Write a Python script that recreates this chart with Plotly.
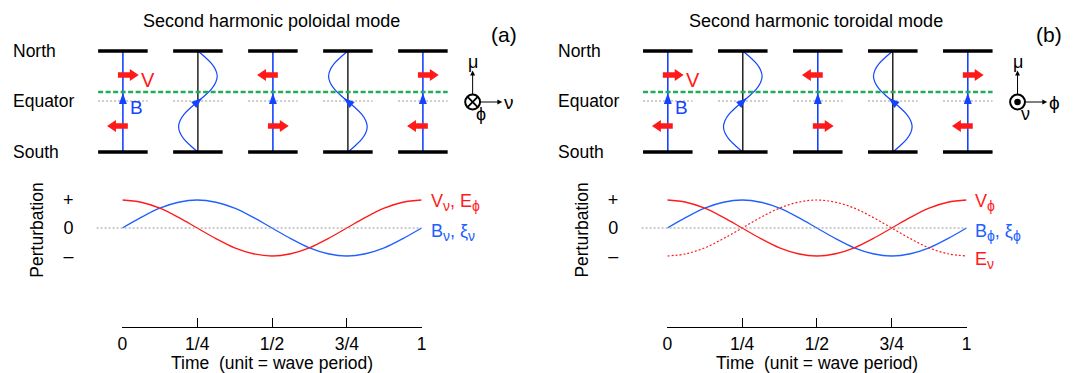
import plotly.graph_objects as go

# ---- data -------------------------------------------------------------
# time in units of the wave period and normalised perturbations
time = [0, 0.0625, 0.125, 0.1875, 0.25, 0.3125, 0.375, 0.4375, 0.5,
        0.5625, 0.625, 0.6875, 0.75, 0.8125, 0.875, 0.9375, 1]
v_pert = [1, 0.92, 0.71, 0.38, 0, -0.38, -0.71, -0.92, -1,
          -0.92, -0.71, -0.38, 0, 0.38, 0.71, 0.92, 1]        # V (red, solid)
b_pert = [0, 0.38, 0.71, 0.92, 1, 0.92, 0.71, 0.38, 0,
          -0.38, -0.71, -0.92, -1, -0.92, -0.71, -0.38, 0]    # B, xi (blue)
e_nu_pert = [-1, -0.92, -0.71, -0.38, 0, 0.38, 0.71, 0.92, 1,
             0.92, 0.71, 0.38, 0, -0.38, -0.71, -0.92, -1]    # E_nu (red, dotted)

time_ticks = [0, 0.25, 0.5, 0.75, 1]
time_labels = ["0", "1/4", "1/2", "3/4", "1"]
pert_ticks = [1, 0, -1]
pert_labels = ["+", "0", "–"]

# snapshots at each quarter period: sign of velocity, field-line displacement
snap_v = [1, 0, -1, 0, 1]
snap_b = [0, 1, 0, -1, 0]

# field-line displacement profile from north (0) to south (1)
line_frac = [0, 0.0625, 0.125, 0.1875, 0.25, 0.3125, 0.375, 0.4375, 0.5,
             0.5625, 0.625, 0.6875, 0.75, 0.8125, 0.875, 0.9375, 1]
line_disp = [0, 0.38, 0.71, 0.92, 1, 0.92, 0.71, 0.38, 0,
             -0.38, -0.71, -0.92, -1, -0.92, -0.71, -0.38, 0]

# ---- layout constants (pixels) ---------------------------------------
W, H = 1080, 373
FONT = "Liberation Sans, Arial, Helvetica, sans-serif"
RED = "#ff1a1a"
BLUE = "#2060ff"
LINE_BLUE = "#1444ff"
GREEN = "#1fae55"
GRAY = "#9a9a9a"

PANEL_DX = 550
COL_X0, COL_DX = 119, 75.7
BAR_HALF = 25
TOP_Y, BOT_Y = 51, 152
EQ_Y = 101
GREEN_Y = 92
WAVE_AMP = 19.5

T0_X, T1_X = 118.5, 420.5
ZERO_Y, UNIT_PX = 228, 28
AXIS_Y, PLOT_TOP_Y = 327, 186

SUB = "<sub><span style='font-size:14px'>{}</span></sub>"

panels = [
    dict(title="Second harmonic poloidal mode", tag="(a)",
         labels=[("V" + SUB.format("ν") + ", E" + SUB.format("ϕ"), RED, 202),
                 ("B" + SUB.format("ν") + ", ξ" + SUB.format("ν"), BLUE, 232)],
         dotted=False, glyph="cross", right_lbl="ν", out_lbl="ϕ"),
    dict(title="Second harmonic toroidal mode", tag="(b)",
         labels=[("V" + SUB.format("ϕ"), RED, 202),
                 ("B" + SUB.format("ϕ") + ", ξ" + SUB.format("ϕ"), BLUE, 232),
                 ("E" + SUB.format("ν"), RED, 260)],
         dotted=True, glyph="dot", right_lbl="ϕ", out_lbl="ν"),
]

fig = go.Figure()
shapes = []
annotations = []


def px_line(x0, y0, x1, y1, color, width, dash=None, layer="above"):
    ln = dict(color=color, width=width)
    if dash:
        ln["dash"] = dash
    shapes.append(dict(type="line", xref="x3", yref="y3", x0=x0, y0=y0,
                       x1=x1, y1=y1, line=ln, layer=layer))


def polygon(pts, color):
    d = "M" + " L".join(f"{x:.2f},{y:.2f}" for x, y in pts) + " Z"
    shapes.append(dict(type="path", xref="x3", yref="y3", path=d,
                       fillcolor=color, line=dict(width=0), layer="above"))


def block_arrow(x_tail, x_tip, y, color=RED, shaft=2.7, head_half=6, head_len=9):
    d = 1 if x_tip > x_tail else -1
    xb = x_tip - d * head_len
    polygon([(x_tail, y - shaft), (xb, y - shaft), (xb, y - head_half),
             (x_tip, y), (xb, y + head_half), (xb, y + shaft),
             (x_tail, y + shaft)], color)


def head(cx, cy, ux, uy, length, half, color):
    n = (ux * ux + uy * uy) ** 0.5
    ux, uy = ux / n, uy / n
    tip = (cx + ux * length / 2, cy + uy * length / 2)
    bx, by = cx - ux * length / 2, cy - uy * length / 2
    polygon([tip, (bx - uy * half, by + ux * half),
             (bx + uy * half, by - ux * half)], color)


def text(x, y, s, size=17, color="black", xanchor="center", angle=0, xref="x3"):
    annotations.append(dict(x=x, y=y, xref=xref, yref="y3", text=s,
                            showarrow=False, xanchor=xanchor, yanchor="middle",
                            textangle=angle,
                            font=dict(family=FONT, size=size, color=color)))


for p, pan in enumerate(panels):
    ox = p * PANEL_DX
    ax_id = "" if p == 0 else "2"

    # --- titles and row labels
    text(269 + ox, 21, pan["title"], size=18)
    text(504 + ox, 34, pan["tag"], size=21)
    text(6 + ox, TOP_Y, "North", xanchor="left", size=17.5)
    text(6 + ox, EQ_Y, "Equator", xanchor="left", size=17.5)
    text(6 + ox, BOT_Y, "South", xanchor="left", size=17.5)

    cols = [COL_X0 + ox + i * COL_DX for i in range(len(snap_v))]

    # --- equator reference lines
    for cx in cols:
        px_line(cx - BAR_HALF, EQ_Y, cx + BAR_HALF, EQ_Y, GRAY, 1, "2px,2px")

    # --- field lines, ionosphere bars
    mid_y = (TOP_Y + BOT_Y) / 2
    i_mid = len(line_frac) // 2
    slope = ((line_disp[i_mid + 1] - line_disp[i_mid - 1])
             / (line_frac[i_mid + 1] - line_frac[i_mid - 1]))
    for cx, vb in zip(cols, snap_b):
        if vb == 0:
            px_line(cx, TOP_Y, cx, BOT_Y, LINE_BLUE, 1.6)
            head(cx, EQ_Y - 2.5, 0, -1, 11, 4, LINE_BLUE)
        else:
            px_line(cx, TOP_Y, cx, BOT_Y, "black", 1.3, layer="below")
            fig.add_trace(go.Scatter(
                x=[cx + WAVE_AMP * vb * d for d in line_disp],
                y=[TOP_Y + f * (BOT_Y - TOP_Y) for f in line_frac],
                xaxis="x3", yaxis="y3", mode="lines", hoverinfo="skip",
                line=dict(color=LINE_BLUE, width=1.2, shape="spline"),
                showlegend=False))
            dxdf = WAVE_AMP * vb * slope
            head(cx, mid_y, -dxdf, -(BOT_Y - TOP_Y), 11, 4, LINE_BLUE)
        px_line(cx - BAR_HALF, TOP_Y, cx + BAR_HALF, TOP_Y, "black", 3.5)
        px_line(cx - BAR_HALF, BOT_Y, cx + BAR_HALF, BOT_Y, "black", 3.5)

    px_line(cols[0] - BAR_HALF, GREEN_Y, cols[-1] + BAR_HALF, GREEN_Y,
            GREEN, 2.5, "5px,2.5px")

    # --- plasma velocity arrows
    for cx, vv in zip(cols, snap_v):
        if vv == 0:
            continue
        block_arrow(cx - 5 * vv, cx + 16 * vv, 75)
        block_arrow(cx + 5 * vv, cx - 16 * vv, 126)

    text(cols[0] + 25, 80, "V", size=20, color=RED)
    text(cols[0] + 14, 107, "B", size=19, color=LINE_BLUE)

    # --- coordinate glyph
    gx, gy, r = 472 + ox, 102, 7.5
    shapes.append(dict(type="circle", xref="x3", yref="y3",
                       x0=gx - r, x1=gx + r, y0=gy - r, y1=gy + r,
                       line=dict(color="black", width=2)))
    if pan["glyph"] == "cross":
        k = r * 0.68
        px_line(gx - k, gy - k, gx + k, gy + k, "black", 1.8)
        px_line(gx - k, gy + k, gx + k, gy - k, "black", 1.8)
    else:
        shapes.append(dict(type="circle", xref="x3", yref="y3",
                           x0=gx - 3.3, x1=gx + 3.3, y0=gy - 3.3, y1=gy + 3.3,
                           fillcolor="black", line=dict(color="black", width=0)))
    px_line(gx, gy - r, gx, 75, "black", 1)
    head(gx, 73, 0, -1, 5, 2.5, "black")
    px_line(gx + r, gy, gx + 27, gy, "black", 1)
    head(gx + 27.5, gy, 1, 0, 5, 2.5, "black")
    text(gx, 62, "μ", size=18)
    text(gx + 37, gy, pan["right_lbl"], size=19)
    text(gx + 8, gy + 12, pan["out_lbl"], size=18)

    # --- time series panel
    px_line(T0_X + ox - 26, ZERO_Y, T1_X + ox, ZERO_Y, GRAY, 1.2, "2px,2px")
    fig.add_trace(go.Scatter(x=time, y=b_pert, xaxis="x" + ax_id, yaxis="y" + ax_id,
                             mode="lines", line=dict(color=BLUE, width=1.3, shape="spline"),
                             hoverinfo="skip", showlegend=False))
    fig.add_trace(go.Scatter(x=time, y=v_pert, xaxis="x" + ax_id, yaxis="y" + ax_id,
                             mode="lines", line=dict(color=RED, width=1.3, shape="spline"),
                             hoverinfo="skip", showlegend=False))
    if pan["dotted"]:
        fig.add_trace(go.Scatter(x=time, y=e_nu_pert, xaxis="x" + ax_id, yaxis="y" + ax_id,
                                 mode="lines",
                                 line=dict(color=RED, width=1.2, dash="2px,2px", shape="spline"),
                                 hoverinfo="skip", showlegend=False))

    for s, c, y in pan["labels"]:
        text(T1_X + ox + 7, y, s, size=18, color=c, xanchor="left")

    text(32 + ox, 230, "Perturbation", size=17.5, angle=-90)
    text(0.5, 363, "Time\u00a0\u00a0(unit = wave period)", size=17.5,
         xref="x" + ax_id)

# ---- axes ---------------------------------------------------------------
y_dom = [(H - AXIS_Y) / H, (H - PLOT_TOP_Y) / H]
y_rng = [(ZERO_Y - AXIS_Y) / UNIT_PX, (ZERO_Y - PLOT_TOP_Y) / UNIT_PX]

xaxis_common = dict(range=[0, 1], showgrid=False, zeroline=False, showline=True,
                    linecolor="black", linewidth=1, ticks="inside", ticklen=9,
                    tickwidth=1, tickcolor="black", tickvals=time_ticks,
                    ticktext=time_labels, ticklabelstandoff=1,
                    tickfont=dict(family=FONT, size=17.5, color="black"),
                    fixedrange=True)
yaxis_common = dict(range=y_rng, domain=y_dom, showgrid=False, zeroline=False,
                    showline=False, ticks="", tickvals=pert_ticks,
                    ticktext=pert_labels, ticklabelstandoff=48,
                    tickfont=dict(family=FONT, size=18, color="black"),
                    fixedrange=True)

fig.update_layout(
    width=W, height=H,
    margin=dict(l=0, r=0, t=0, b=0),
    paper_bgcolor="white", plot_bgcolor="rgba(0,0,0,0)",
    showlegend=False,
    xaxis=dict(domain=[T0_X / W, T1_X / W], anchor="y", **xaxis_common),
    yaxis=dict(anchor="x", **yaxis_common),
    xaxis2=dict(domain=[(T0_X + PANEL_DX) / W, (T1_X + PANEL_DX) / W],
                anchor="y2", **xaxis_common),
    yaxis2=dict(anchor="x2", **yaxis_common),
    xaxis3=dict(domain=[0, 1], range=[0, W], anchor="y3", visible=False,
                fixedrange=True),
    yaxis3=dict(domain=[0, 1], range=[H, 0], anchor="x3", visible=False,
                fixedrange=True),
    shapes=shapes,
    annotations=annotations,
)

fig.write_html("out.html")
